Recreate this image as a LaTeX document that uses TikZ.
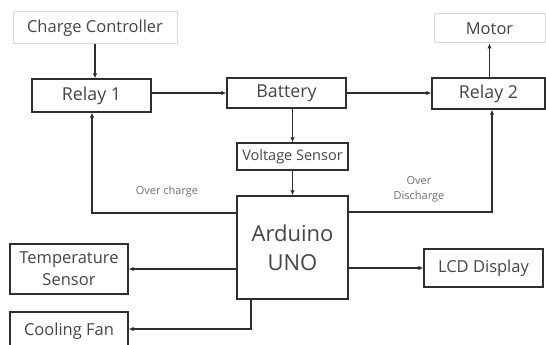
\documentclass[tikz,border=0pt]{standalone}
\usepackage{fontspec}
\setmainfont{Open Sans}
\usetikzlibrary{arrows.meta,positioning,calc}

\definecolor{inkgray}{HTML}{2E2E2E}
\definecolor{textgray}{HTML}{444444}
\definecolor{labelgray}{HTML}{707070}
\definecolor{palegray}{HTML}{D8D8D8}

\begin{document}
\begin{tikzpicture}[
  x=1pt, y=-1pt,
  >={Latex[length=5pt,width=4.5pt]},
  every node/.style={text=textgray},
  block/.style={rectangle, draw=inkgray, line width=1.3pt, inner sep=0pt,
                font=\fontsize{16.5}{22}\selectfont, align=center},
  softblock/.style={block, draw=palegray, line width=1pt},
  bigblock/.style={block, font=\fontsize{22}{29}\selectfont},
  relayfont/.style={font=\fontsize{17.8}{21}\selectfont},
  link/.style={->, line width=1.3pt, draw=inkgray},
  edgelabel/.style={font=\fontsize{11}{15}\selectfont, text=labelgray, align=center},
]
  \useasboundingbox (0,0) rectangle (546,345);
  \clip (0,0) rectangle (546,345);

  % Top row
  \node[softblock, minimum width=164, minimum height=32] (cc) at (95,28) {Charge Controller};
  \node[softblock, minimum width=111, minimum height=29] (motor) at (489.5,28.5) {Motor};
  \node[block, relayfont, minimum width=119, minimum height=33] (relay1) at (91.5,95.5) {Relay 1};
  \node[block, relayfont, minimum width=119, minimum height=30] (battery) at (286.5,93) {Battery};
  \node[block, relayfont, minimum width=113, minimum height=31] (relay2) at (488.5,93.5) {Relay 2};

  % Centre column
  \node[block, minimum width=111, minimum height=27,
        font=\fontsize{14.5}{17}\selectfont] (vsensor) at (292.5,156.5) {Voltage Sensor};
  \node[bigblock, minimum width=111, minimum height=103] (arduino) at (292.5,247.5) {Arduino\\UNO};

  % Outputs
  \node[block, minimum width=118, minimum height=50] (temp) at (69,269) {Temperature\\Sensor};
  \node[block, minimum width=118, minimum height=38] (fan) at (69,331) {Cooling Fan};
  \node[block, minimum width=119, minimum height=38] (lcd) at (483.5,268) {LCD Display};

  % Corner points
  \coordinate (oc) at (92,213);
  \coordinate (od) at (492,212);
  \coordinate (cf) at (251,329);

  % Power path
  \draw[link] (cc.south) -- (cc.south |- relay1.north);
  \draw[link] (relay1.east |- battery.west) -- (battery.west);
  \draw[link] (battery.east) -- (battery.east -| relay2.west);
  \draw[link] (relay2.north -| motor.south) -- (motor.south);
  \draw[link] (battery.south -| vsensor.north) -- (vsensor.north);
  \draw[link] (vsensor.south) -- (arduino.north);

  % Control lines
  \draw[link] (arduino.west |- oc) -- (oc) -- (oc |- relay1.south);
  \draw[link] (arduino.east |- od) -- (od) -- (od |- relay2.south);
  \draw[link] (arduino.west |- temp.east) -- (temp.east);
  \draw[link] (arduino.east |- lcd.west) -- (lcd.west);
  \draw[link] (cf |- arduino.south) -- (cf) -- (cf -| fan.east);

  \node[edgelabel] (lblcharge) at (167,192) {Over charge};
  \node[edgelabel] (lbldischarge) at (419,189.5) {Over\\Discharge};
\end{tikzpicture}
\end{document}
